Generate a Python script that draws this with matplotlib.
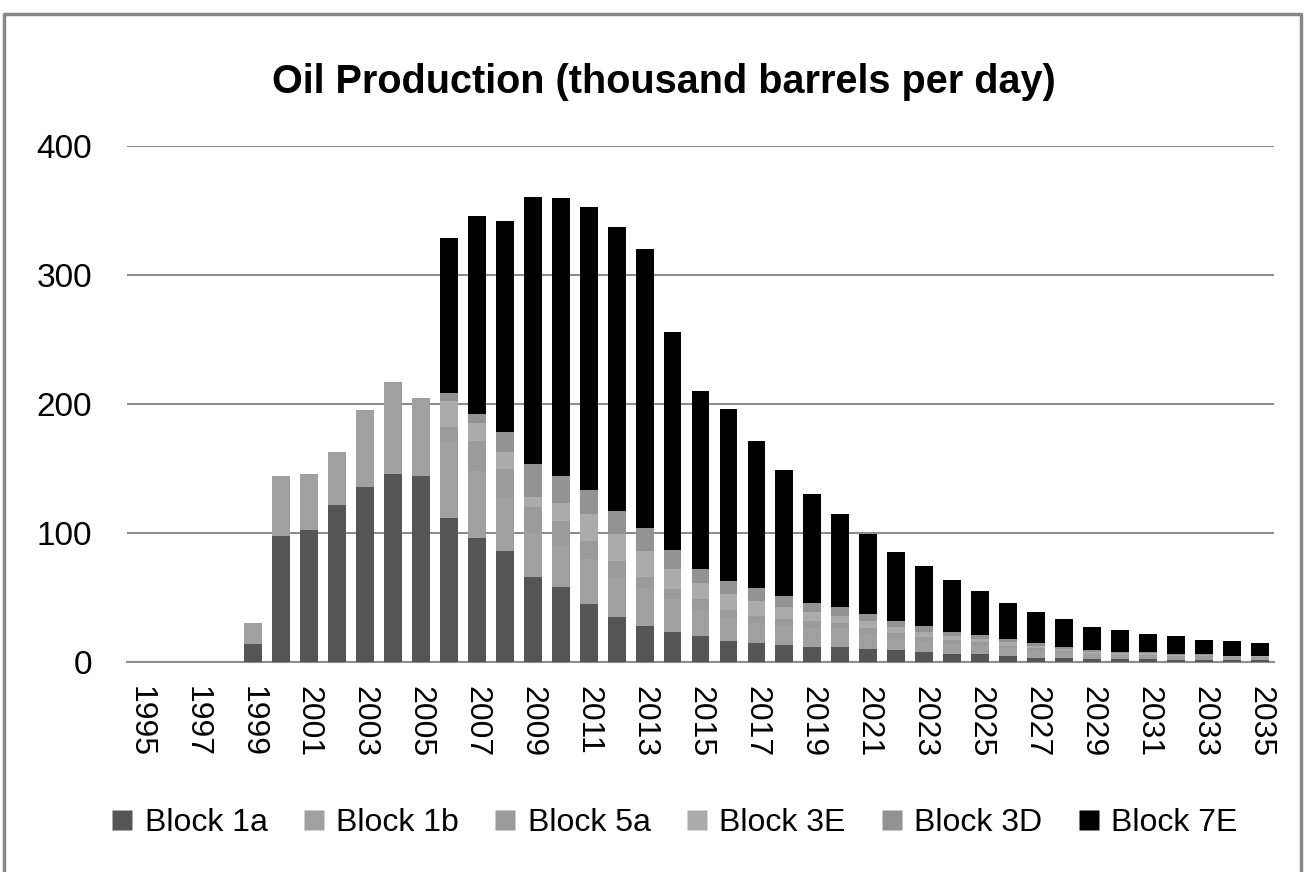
import numpy as np
import matplotlib
matplotlib.use('Agg')
import matplotlib.pyplot as plt
from matplotlib.lines import Line2D

plt.rcParams['font.family'] = ['Liberation Sans', 'DejaVu Sans']

years = list(range(1995, 2036))

block_1a = [0, 0, 0, 0, 14, 98, 102, 122, 136, 146, 144, 112, 96, 86, 66, 58, 45, 35, 28, 23.5,
            20, 16, 14.5, 13, 11.5, 11.5, 10, 9, 7.6, 6.3, 6.3, 4.7, 3.4, 2.9, 2.1, 2, 2, 1.6, 1.6, 1.3, 1.3]
block_1b = [0, 0, 0, 0, 16, 46, 44, 41, 59, 71, 61, 59.5, 52, 41, 34, 33, 34.5, 31, 29, 25,
            20.5, 18, 16, 15.5, 15, 14.5, 12, 9.5, 8.5, 7.5, 6.3, 5.8, 5.2, 4.2, 3.3, 2.8, 2.8, 2.3, 2.3, 1.8, 1.8]
block_5a = [0, 0, 0, 0, 0, 0, 0, 0, 0, 0, 0, 11, 23, 23, 20, 18, 14.5, 12, 9, 8,
            8, 6, 5.5, 4.5, 5, 4, 4, 4, 3.5, 3, 2.6, 2.2, 2, 1.6, 1.2, 1, 1, 0.8, 0.8, 0.6, 0.6]
block_3e = [0, 0, 0, 0, 0, 0, 0, 0, 0, 0, 0, 20, 14.5, 12.5, 8, 14, 21, 21, 20, 16,
            12.5, 13, 11.5, 10, 7, 5.5, 6, 4.5, 4, 3.3, 2.7, 2.5, 2.1, 1.65, 1.25, 1, 1, 0.8, 0.8, 0.65, 0.65]
block_3d = [0, 0, 0, 0, 0, 0, 0, 0, 0, 0, 0, 6, 7, 15.5, 25.5, 21.5, 18, 18, 18, 14,
            11, 10, 10, 8, 7, 7, 5.4, 4.5, 4, 3.3, 2.7, 2.5, 2.1, 1.65, 1.25, 1, 1, 0.8, 0.8, 0.65, 0.65]
block_7e = [0, 0, 0, 0, 0, 0, 0, 0, 0, 0, 0, 120, 153, 164, 207, 215, 220, 220, 216, 169,
            138, 133, 113.5, 98, 85, 72.5, 62, 53.6, 47.1, 39.9, 34.1, 28.4, 24.2, 21.3, 18.2, 16.9, 14.1, 14, 11.1, 11.1, 9.8]

series = [
    ('Block 1a', block_1a, '#555555'),
    ('Block 1b', block_1b, '#a0a0a0'),
    ('Block 5a', block_5a, '#9b9b9b'),
    ('Block 3E', block_3e, '#ababab'),
    ('Block 3D', block_3d, '#939393'),
    ('Block 7E', block_7e, '#000000'),
]

fig = plt.figure(figsize=(13.04, 8.72), dpi=100)
ax = fig.add_axes([0.0974, 0.2408, 0.8796, 0.5917])

x = np.arange(len(years))
bottom = np.zeros(len(years))
handles = []
for name, vals, color in series:
    vals = np.array(vals, dtype=float)
    ax.bar(x, vals, 0.64, bottom=bottom, color=color, edgecolor='none', zorder=3)
    bottom += vals
    handles.append(Line2D([], [], marker='s', linestyle='none', markersize=14.4,
                          markerfacecolor=color, markeredgecolor='none', label=name))

ax.set_xlim(-0.5, len(years) - 0.5)
ax.set_ylim(0, 400)
ax.set_yticks([0, 100, 200, 300, 400])
ax.yaxis.grid(True, color='#8c8c8c', linewidth=1.5, zorder=0)
ax.set_xticks(x[::2])
ax.set_xticklabels([str(y) for y in years[::2]], rotation=270, fontsize=23)
ax.tick_params(axis='y', labelsize=24, length=0, pad=25)
ax.tick_params(axis='x', length=0, pad=17)
for s in ['left', 'right', 'top']:
    ax.spines[s].set_visible(False)
ax.spines['bottom'].set_color('#8c8c8c')
ax.spines['bottom'].set_linewidth(1.5)

fig.text(0.509, 0.906, 'Oil Production (thousand barrels per day)', ha='center', va='center',
         fontsize=28.5, fontweight='bold')

fig.legend(handles=handles, loc='center', bbox_to_anchor=(0.516, 0.056), ncol=6, frameon=False,
           fontsize=23, handletextpad=0.25, columnspacing=1.0, handlelength=0.9)

# outer chart border
fig.add_artist(Line2D([0.003, 0.003, 0.998, 0.998], [0.0, 0.984, 0.984, 0.0],
                      transform=fig.transFigure, color='#888888', linewidth=2.5))

fig.savefig('out.png', dpi=100)
